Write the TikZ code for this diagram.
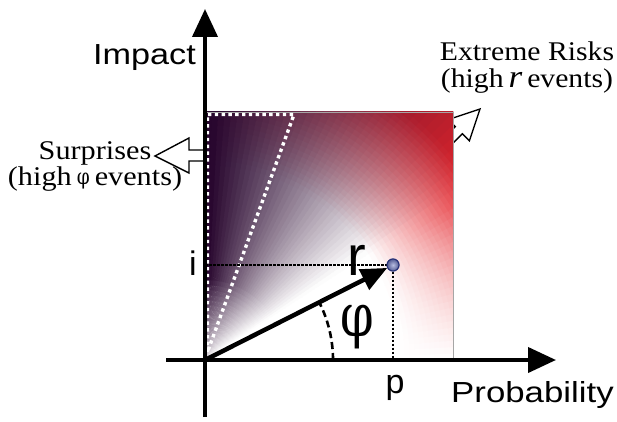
\documentclass[tikz,border=0pt]{standalone}
\usepackage{fontspec}
\setmainfont{Liberation Serif}
\newfontfamily\sansf{Liberation Sans}
\newfontfamily\dvserif{DejaVu Serif}
\usepackage{graphicx}
\usetikzlibrary{arrows.meta,calc}
\definecolor{purp}{RGB}{40,6,46}
\definecolor{rd}{RGB}{228,38,44}
\definecolor{dotc}{RGB}{40,50,120}
\definecolor{dotl}{RGB}{185,190,225}
\begin{document}
\begin{tikzpicture}[x=1pt,y=1pt,
  axisline/.style={line width=4pt, -{Triangle[length=28pt,width=25pt]}},
  vecline/.style={line width=4.5pt, -{Triangle[length=26pt,width=22pt]}},
  wdots/.style={white, line width=3.4pt, dash pattern=on 3.4pt off 3.4pt},
  bdots/.style={black, line width=1.3pt, dash pattern=on 2.5pt off 1.5pt},
  arcdash/.style={line width=2.6pt, dash pattern=on 7pt off 4pt},
  barrow/.style={draw=black, fill=white, line width=1.4pt, line join=miter},
  sanslab/.style={font=\sansf\fontsize{29}{34}\selectfont, inner sep=0pt},
  seriflab/.style={font=\fontsize{27}{27}\selectfont, inner sep=0pt},
  dotnode/.style={circle, minimum size=12pt, inner sep=0pt, draw=dotc, line width=1pt, inner color=dotl, outer color=dotc!80},
]
\useasboundingbox (0,0) rectangle (617,421);
\fill[white] (0,0) rectangle (617,421);

% block arrows (behind the square)
\draw[barrow] (155,265) -- (189,283) -- (189,271) -- (212,271) -- (212,260) -- (189,260) -- (189,248) -- cycle;
\begin{scope}[shift={(480,312)}, rotate=45]
  \draw[barrow] (0,0) -- (-30,15) -- (-30,5) -- (-75,5) -- (-75,-5) -- (-30,-5) -- (-30,-15) -- cycle;
\end{scope}

% shaded square
\coordinate (O) at (205,61);
\begin{scope}
  \clip (205,61) rectangle (453,309);
  \fill[white] (205,61) rectangle (453,309);
  \begin{scope}[shift={(205,61)}]
  \foreach \ang in {0,1.5,...,88.5}{
    \foreach \rad in {0,5,...,350}{
      \pgfmathsetmacro{\am}{\ang+0.75}
      \pgfmathsetmacro{\rr}{\rad+2.5}
      \pgfmathsetmacro{\cB}{100*max(0,min(1,(\am-33)/55))*min(1,0.25+\rr/110)}
      \pgfmathsetmacro{\cA}{100*min(1,\am/32)*max(0,min(1,(\rr-195)/125))}
      \pgfmathsetmacro{\angB}{\ang+1.8}
      \pgfmathsetmacro{\rO}{\rad+6}
      \colorlet{tmpc}{rd!\cA!white}
      \colorlet{cellc}{purp!\cB!tmpc}
      \fill[cellc] (\ang:\rad) -- (\ang:\rO) -- (\angB:\rO) -- (\angB:\rad) -- cycle;
    }
  }
  \end{scope}
\end{scope}
\draw[gray!70, line width=0.8pt] (205,61) rectangle (453,309);

% white dotted triangle
\draw[wdots] (207.5,69) -- (207.5,306.5) -- (294,306.5) -- cycle;

% axes
\coordinate (ybot) at (205,4);
\coordinate (ytop) at (205,412);
\coordinate (xleft) at (166,61);
\coordinate (xright) at (556,61);
\draw[axisline] (ybot) -- (ytop);
\draw[axisline] (xleft) -- (xright);

% point, projections, vector
\node[dotnode] (pt) at (393,156) {};
\coordinate (iax) at (205,156);
\coordinate (pax) at (393,61);
\draw[bdots] (iax) -- (pt.west);
\draw[bdots] (pt.south) -- (pax);
\draw[vecline] (O) -- (pt);
\node[dotnode] at (pt) {};
\draw[arcdash] ($(O)+(128,0)$) arc[start angle=0, end angle=26.8, radius=128pt];

% labels
\node[sanslab, anchor=base east] (impact) at (196,356) {\scalebox{1.18}[1]{Impact}};
\node[sanslab, anchor=base west] (prob) at (451,19) {\scalebox{1.2}[1]{Probability}};
\node[font=\sansf\fontsize{34}{34}\selectfont, inner sep=0pt, anchor=base] (ilab) at (193,146) {i};
\node[font=\sansf\fontsize{34}{34}\selectfont, inner sep=0pt, anchor=base] (plab) at (395,28) {p};
\node[font=\sansf\fontsize{56}{56}\selectfont, inner sep=0pt, anchor=base] (rlab) at (357,146) {r};
\node[font=\dvserif\fontsize{60}{60}\selectfont, inner sep=0pt] (philab) at (357,94) {\scalebox{0.8}[1]{φ}};

\node[seriflab, anchor=base] (surp1) at (95,262) {\scalebox{1.12}[1]{Surprises}};
\node[seriflab, anchor=base] (surp2) at (95,236) {\scalebox{1.12}[1]{(high\,\raisebox{1pt}{\dvserif\fontsize{22}{22}\selectfont\scalebox{0.75}[1]{φ}}\,events)}};
\node[seriflab, anchor=base] (ext1) at (527,360) {\scalebox{1.1}[1]{Extreme Risks}};
\node[seriflab, anchor=base] (ext2) at (527,333) {\scalebox{1.1}[1]{(high\,{\itshape\fontsize{32}{32}\selectfont r}\,events)}};
\end{tikzpicture}
\end{document}
